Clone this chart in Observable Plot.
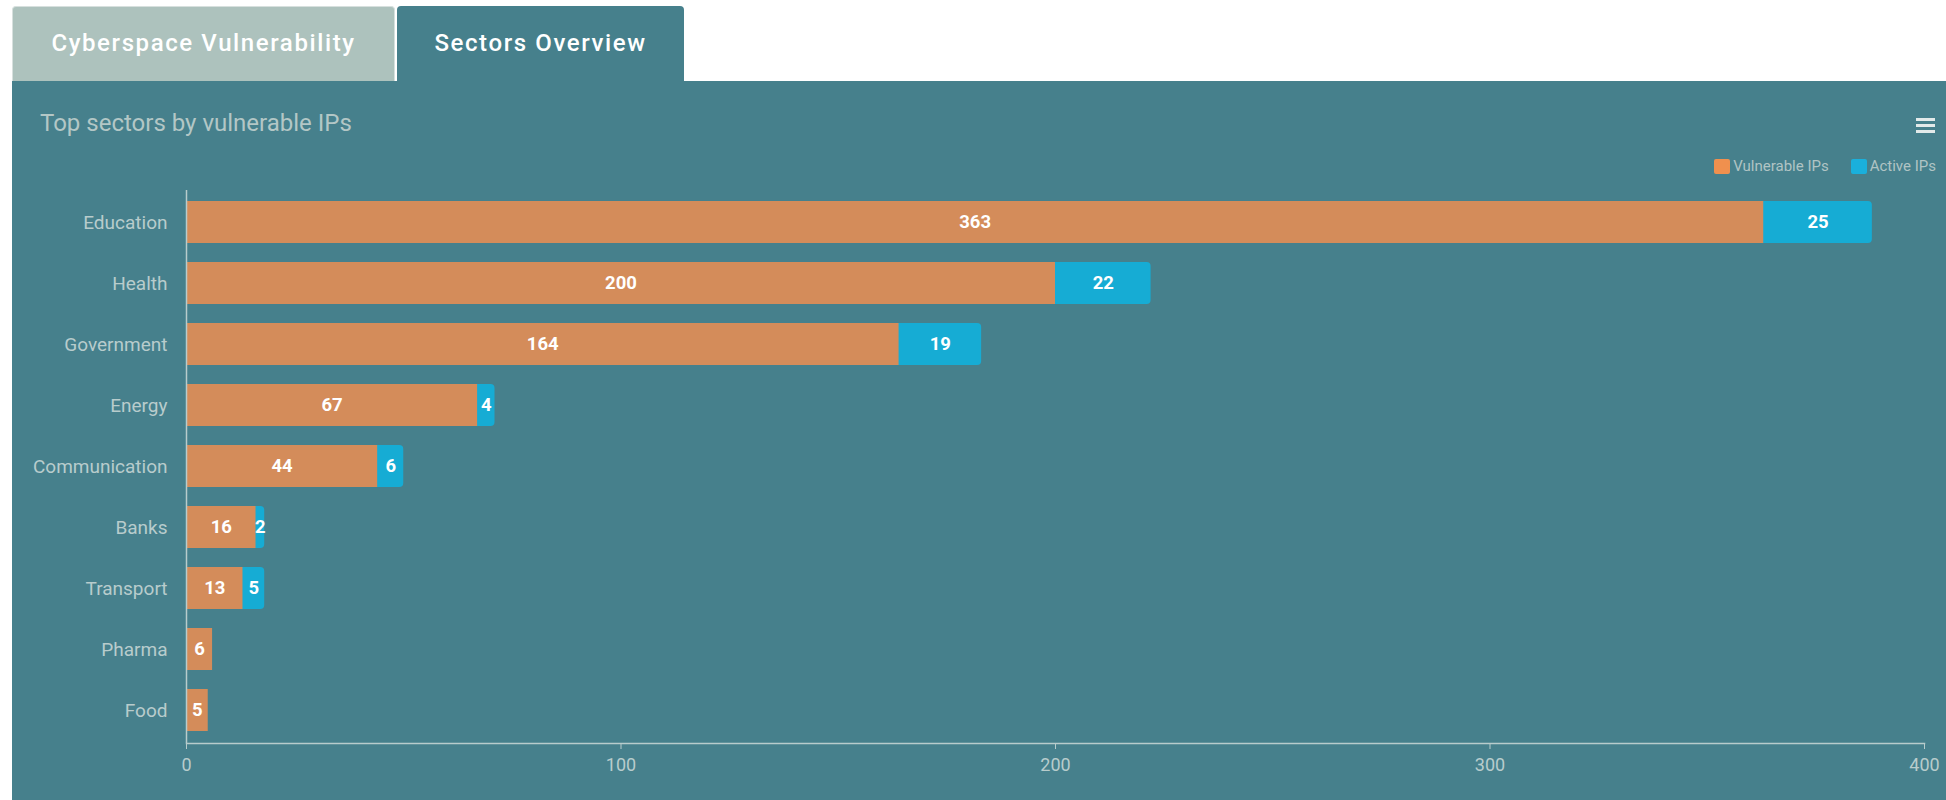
<!DOCTYPE html>
<html>
<head>
<meta charset="utf-8">
<script src="https://cdn.jsdelivr.net/npm/d3@7"></script>
<script src="https://cdn.jsdelivr.net/npm/@observablehq/plot@0.6"></script>
<style>
  html, body { margin: 0; padding: 0; background: #ffffff; width: 1946px; height: 800px; overflow: hidden; font-family: Roboto, "Noto Sans", sans-serif; }
  .tab { position: absolute; top: 6px; height: 75px; box-sizing: border-box; border-radius: 4px 4px 0 0; color: #ffffff; font-size: 24px; font-weight: 500; letter-spacing: 1.6px; display: flex; align-items: center; justify-content: center; padding-bottom: 2px; }
  #tab1 { left: 12px; width: 383px; background: #adc2bd; border: 1px solid #d7e0de; border-bottom: none; }
  #tab2 { left: 397px; width: 287px; background: #46808c; }
  #panel { position: absolute; left: 12px; top: 81px; width: 1934px; height: 719px; background: #46808c; }
  #title { position: absolute; left: 40px; top: 109px; color: #b3c7c6; font-size: 24px; }
  #menu { position: absolute; left: 1916px; top: 118px; width: 19px; }
  #menu div { height: 2.5px; background: #e2eaea; margin-bottom: 3.5px; }
  #legend { position: absolute; top: 157px; right: 10px; display: flex; align-items: center; color: #b0c4c4; font-size: 15px; }
  #legend .sw { width: 16px; height: 15px; border-radius: 2px; margin-right: 3px; }
  #legend .item { display: flex; align-items: center; margin-left: 22px; }
  #chart { position: absolute; left: 12px; top: 180px; }
</style>
</head>
<body>
<div class="tab" id="tab1">Cyberspace Vulnerability</div>
<div class="tab" id="tab2">Sectors Overview</div>
<div id="panel"></div>
<div id="title">Top sectors by vulnerable IPs</div>
<div id="menu"><div></div><div></div><div></div></div>
<div id="legend">
  <div class="item"><div class="sw" style="background:#f0904e"></div>Vulnerable IPs</div>
  <div class="item"><div class="sw" style="background:#1ab0dc"></div>Active IPs</div>
</div>
<div id="chart"></div>
<script>
const sectors = ["Education", "Health", "Government", "Energy", "Communication", "Banks", "Transport", "Pharma", "Food"];
const vulnerable = [363, 200, 164, 67, 44, 16, 13, 6, 5];
const active = [25, 22, 19, 4, 6, 2, 5, 0, 0];
const xTicks = [0, 100, 200, 300, 400];

const orange = "#d48c5a";
const blue = "#16acd4";
const axisColor = "#b8cccc";

const rows = sectors.map((s, i) => ({sector: s, v: vulnerable[i], a: active[i], total: vulnerable[i] + active[i]}));
const withActive = rows.filter(d => d.a > 0);

const chart = Plot.plot({
  width: 1934,
  height: 620,
  marginTop: 10,
  marginBottom: 57,
  marginLeft: 174,
  marginRight: 22,
  style: {background: "transparent", fontFamily: "Roboto, sans-serif", color: axisColor},
  x: {domain: [0, 400], ticks: xTicks},
  y: {domain: sectors, paddingInner: 0.31, paddingOuter: 0.13},
  marks: [
    Plot.barX(withActive, {x1: 0, x2: "total", y: "sector", fill: blue, rx: 4}),
    Plot.barX(rows, {x1: 0, x2: "v", y: "sector", fill: orange}),
    Plot.text(rows, {x: d => d.v / 2, y: "sector", text: d => String(d.v), fill: "#ffffff", fontSize: 18.5, fontWeight: "bold"}),
    Plot.text(withActive, {x: d => d.v + d.a / 2, y: "sector", text: d => String(d.a), fill: "#ffffff", fontSize: 18.5, fontWeight: "bold"}),
    Plot.ruleX([0], {stroke: axisColor, strokeWidth: 1.5}),
    Plot.frame({anchor: "bottom", stroke: axisColor, strokeWidth: 1.5}),
    Plot.axisX({ticks: xTicks, tickSize: 6, tickPadding: 9, fontSize: 18, stroke: axisColor, fill: axisColor, label: null}),
    Plot.axisY({tickSize: 0, tickPadding: 19, fontSize: 19, fill: axisColor, label: null})
  ]
});
document.getElementById("chart").appendChild(chart);
</script>
</body>
</html>
